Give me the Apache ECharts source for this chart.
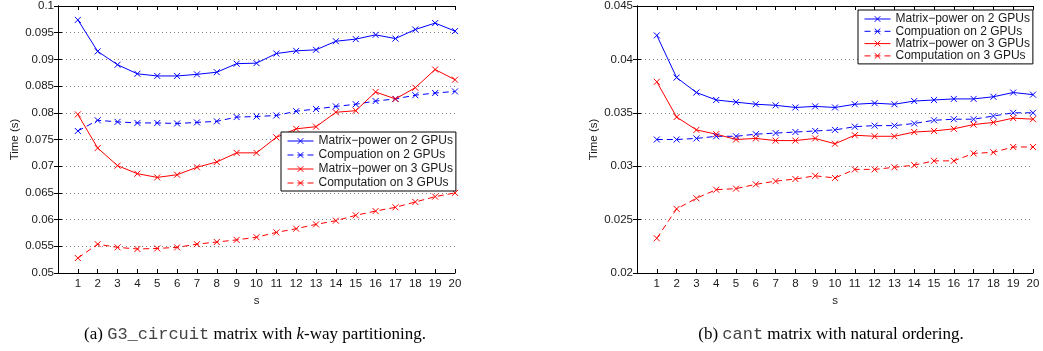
<!DOCTYPE html>
<html>
<head>
<meta charset="utf-8">
<script src="https://cdn.jsdelivr.net/npm/echarts@6/dist/echarts.min.js"></script>
<style>
html,body{margin:0;padding:0;background:#fff;}
#chart{width:1043px;height:351px;}
</style>
</head>
<body>
<div id="chart"></div>
<script>
// ---- data ----
const sValues = [1,2,3,4,5,6,7,8,9,10,11,12,13,14,15,16,17,18,19,20];
const seriesNames = ['Matrix−power on 2 GPUs','Compuation on 2 GPUs','Matrix−power on 3 GPUs','Computation on 3 GPUs'];

// (a) G3_circuit
const g3MatrixPower2 = [0.0974,0.0915,0.0890,0.0873,0.0869,0.0869,0.0872,0.0876,0.0892,0.0893,0.0911,0.0916,0.0918,0.0934,0.0938,0.0946,0.0939,0.0956,0.0968,0.0953];
const g3Computation2 = [0.0766,0.0786,0.0783,0.0781,0.0781,0.0780,0.0782,0.0784,0.0792,0.0793,0.0795,0.0803,0.0807,0.0812,0.0816,0.0822,0.0826,0.0833,0.0837,0.0840];
const g3MatrixPower3 = [0.0797,0.0734,0.0701,0.0686,0.0679,0.0684,0.0698,0.0708,0.0725,0.0725,0.0754,0.0770,0.0774,0.0801,0.0804,0.0839,0.0826,0.0847,0.0881,0.0862];
const g3Computation3 = [0.0528,0.0554,0.0548,0.0545,0.0546,0.0548,0.0554,0.0558,0.0562,0.0567,0.0576,0.0583,0.0591,0.0598,0.0608,0.0616,0.0623,0.0633,0.0643,0.0650];

// (b) cant
const cantMatrixPower2 = [0.04225,0.0383,0.0369,0.0362,0.0360,0.0358,0.0357,0.0355,0.0356,0.0355,0.0358,0.0359,0.0358,0.0361,0.0362,0.0363,0.0363,0.0365,0.0369,0.0367];
const cantComputation2 = [0.0325,0.0325,0.0326,0.0328,0.0328,0.0330,0.0331,0.0332,0.0333,0.0334,0.0337,0.0338,0.0338,0.0340,0.0343,0.0344,0.0344,0.0347,0.0350,0.0350];
const cantMatrixPower3 = [0.0379,0.0346,0.0334,0.0330,0.0325,0.0326,0.0324,0.0324,0.0326,0.0321,0.0329,0.0328,0.0328,0.0332,0.0333,0.0335,0.0339,0.0341,0.0345,0.0344];
const cantComputation3 = [0.02325,0.0260,0.0270,0.0278,0.0279,0.0283,0.0286,0.0288,0.0291,0.0289,0.0297,0.0297,0.0299,0.0301,0.0305,0.0305,0.0312,0.0313,0.0318,0.0318];

const leftYRange = [0.05, 0.1];
const rightYRange = [0.02, 0.045];
const yTickStep = 0.005;
const xRange = [0, 20];

const captionA = '{n|(a) }{m|G3_circuit}{n| matrix with }{i|k}{n|-way partitioning.}';
const captionB = '{n|(b) }{m|cant}{n| matrix with natural ordering.}';

// ---- styling / options ----
const BLUE = '#0000ff', RED = '#ff0000';
const XMARK = 'path://M0,0L10,10M10,0L0,10';
const FONT = 'Liberation Sans';
const TXT = '#1a1a1a';

function mkSeries(name, ys, color, dashed, gi) {
  return {
    name: name, type: 'line',
    xAxisIndex: gi * 2, yAxisIndex: gi * 2,
    data: ys.map((v, i) => [sValues[i], v]),
    color: color,
    symbol: XMARK, symbolSize: 6, symbolKeepAspect: true,
    itemStyle: { color: color, borderColor: color, borderWidth: 1 },
    lineStyle: { color: color, width: 1, type: dashed ? [6, 4] : 'solid' },
    emphasis: { disabled: true },
    animation: false
  };
}

function yLabelFmt(v) { return String(+v.toFixed(3)); }

function mkAxesPair(gi, yr) {
  const axisLine = { show: true, lineStyle: { color: '#000', width: 1 } };
  const tick = { show: true, inside: true, length: 4, lineStyle: { color: '#000', width: 1 } };
  const xs = [
    { gridIndex: gi, type: 'value', position: 'bottom', min: xRange[0], max: xRange[1], interval: 1,
      axisLine: axisLine, axisTick: tick, splitLine: { show: false },
      axisLabel: { show: true, margin: 5, color: TXT, fontFamily: FONT, fontSize: 11.5,
        formatter: v => (v === 0 ? '' : String(v)) },
      name: 's', nameLocation: 'middle', nameGap: 15,
      nameTextStyle: { color: TXT, fontFamily: FONT, fontSize: 11.5 } },
    { gridIndex: gi, type: 'value', position: 'top', min: xRange[0], max: xRange[1], interval: 1,
      axisLine: axisLine, axisTick: tick, splitLine: { show: false }, axisLabel: { show: false } }
  ];
  const ys = [
    { gridIndex: gi, type: 'value', position: 'left', min: yr[0], max: yr[1], interval: yTickStep,
      axisLine: axisLine, axisTick: tick,
      splitLine: { show: true, lineStyle: { color: '#808080', width: 1, type: [1, 3] } },
      axisLabel: { show: true, margin: 4, color: TXT, fontFamily: FONT, fontSize: 11.5, formatter: yLabelFmt },
      name: 'Time (s)', nameLocation: 'middle', nameGap: 37, nameRotate: 90,
      nameTextStyle: { color: TXT, fontFamily: FONT, fontSize: 11.5 } },
    { gridIndex: gi, type: 'value', position: 'right', min: yr[0], max: yr[1], interval: yTickStep,
      axisLine: axisLine, axisTick: tick, splitLine: { show: false }, axisLabel: { show: false } }
  ];
  return { xs, ys };
}

const a0 = mkAxesPair(0, leftYRange);
const a1 = mkAxesPair(1, rightYRange);

function mkLegend(left, top, gap) {
  return {
    orient: 'vertical', left: left, top: top,
    data: seriesNames,
    itemWidth: 26, itemHeight: 7, itemGap: gap,
    padding: [3, 3, 2, 6],
    backgroundColor: '#fff', borderColor: '#000', borderWidth: 1,
    selectedMode: false,
    itemStyle: { borderWidth: 1 },
    lineStyle: { width: 1 },
    textStyle: { color: TXT, fontFamily: FONT, fontSize: 12, lineHeight: 12 }
  };
}

const captionRich = {
  n: { fontFamily: 'Liberation Serif', fontSize: 17, fontWeight: 'normal', color: '#000' },
  m: { fontFamily: 'Liberation Mono', fontSize: 17, fontWeight: 'normal', color: '#444' },
  i: { fontFamily: 'Liberation Serif', fontSize: 17, fontWeight: 'normal', fontStyle: 'italic', color: '#000' }
};

const option = {
  backgroundColor: '#fff',
  animation: false,
  grid: [
    { left: 58, top: 6, width: 397, height: 267, containLabel: false },
    { left: 637, top: 6, width: 396, height: 267, containLabel: false }
  ],
  xAxis: [...a0.xs, ...a1.xs],
  yAxis: [...a0.ys, ...a1.ys],
  legend: [mkLegend(281, 132, 2), mkLegend(858, 10, 0.3)],
  title: [
    { text: captionA, left: 250, top: 321, textAlign: 'center', textStyle: { fontWeight: 'normal', rich: captionRich } },
    { text: captionB, left: 826, top: 321, textAlign: 'center', textStyle: { fontWeight: 'normal', rich: captionRich } }
  ],
  series: [
    mkSeries(seriesNames[0], g3MatrixPower2, BLUE, false, 0),
    mkSeries(seriesNames[1], g3Computation2, BLUE, true, 0),
    mkSeries(seriesNames[2], g3MatrixPower3, RED, false, 0),
    mkSeries(seriesNames[3], g3Computation3, RED, true, 0),
    mkSeries(seriesNames[0], cantMatrixPower2, BLUE, false, 1),
    mkSeries(seriesNames[1], cantComputation2, BLUE, true, 1),
    mkSeries(seriesNames[2], cantMatrixPower3, RED, false, 1),
    mkSeries(seriesNames[3], cantComputation3, RED, true, 1)
  ]
};

const chart = echarts.init(document.getElementById('chart'), null, { renderer: 'canvas' });
chart.setOption(option);
</script>
</body>
</html>
